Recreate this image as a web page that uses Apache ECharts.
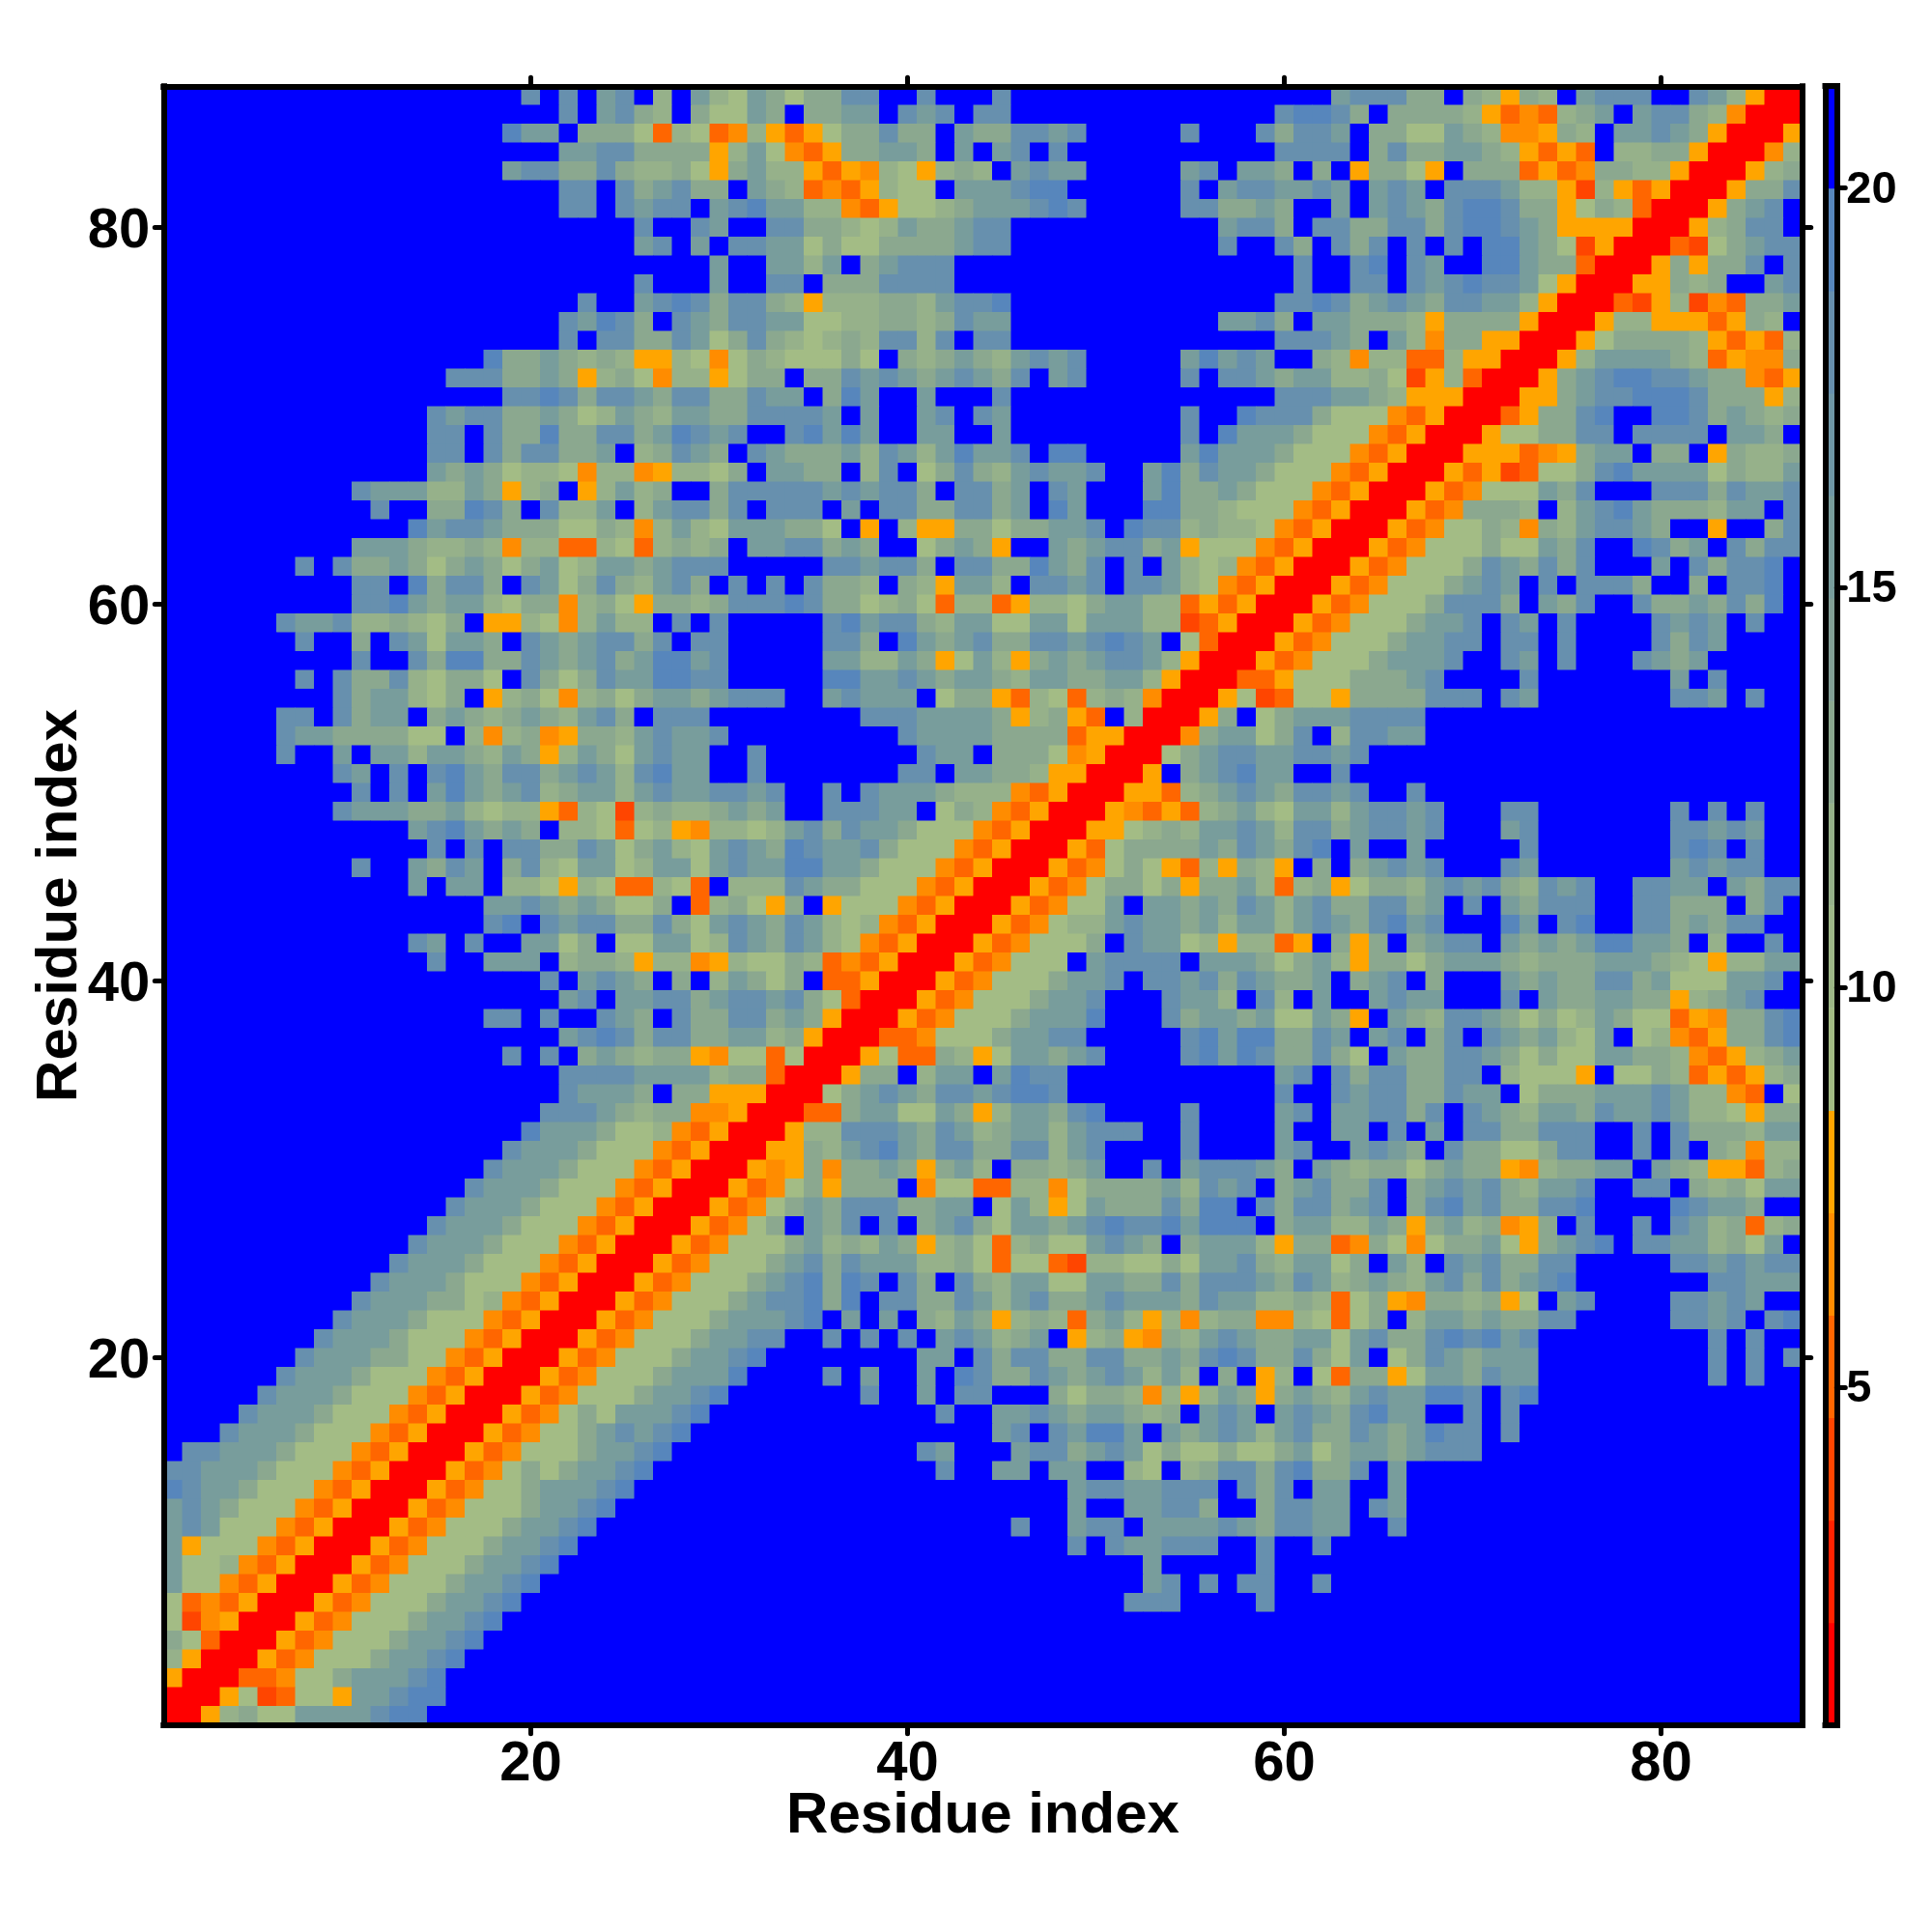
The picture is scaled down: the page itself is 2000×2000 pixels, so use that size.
<!DOCTYPE html>
<html>
<head>
<meta charset="utf-8">
<style>html,body{margin:0;padding:0;background:#fff}#c{width:2000px;height:2000px}</style>
<script src="https://cdn.jsdelivr.net/npm/echarts@6/dist/echarts.min.js"></script>
</head>
<body>
<div id="c"></div>
<script>
// Rows run top to bottom. Each letter is a distance band; "B19" means 19 cells of band B.
const rowsTopLeft = ["B19nBnBlnBhBl","B21nBlnjhBj","B18ollBjjjgdhg","B21llnnjjjj","B18lnnjjnjhhjg","B21nnBnjlnj","B21nnBnlnnB","B25nB2n","B25lnBl","B29","B25nB3","B22nB2lnon","B21nlonjBnl","B21nBnnjjnl","B17ojjljhjhffhg","B15nnnjjljfhjgehh","B18nnonjnnljnn","B14nlnnjjljghljhll","B14nnBnjjojjnnjlon","B14nnBnjnnjjlBhjnl","B14ljljghhgehhefhh","B10nlllhhljfhjBfhlhjB2","B11nB2jjonjBnhhlBhlnn","B13olnnljjjggjhehlh","B10llljhhjhehhddhgdhjh","B7nBnjjljgjljgjlghlljlnn","B10nnBojnnjBnlgjnjhlnj","B10nnoljllhgjjehjgfjjh","B6nllnhhjhgjBffhgehlhhBnB"];
const rowsTopMid = ["hgljgjjnnB2nB3nB13","ggljBjjllBnlnBnnB13","dehfdfgjjnjjBljjnnlnB5nB3","fhlgedfjjlljBlBlnBnB10","fjlhhfdfehgfhjhBlnllB5lnBl","jBljhdedfhggBlllnooB6nBln","lnollhhedfgghjlllnonB5nnjj","lB2nnjjhghljjlnnB11ln","BnnllgjggjjjjlnnB11nB","lB2llhlBjlnnnB16","lB2nnBjjjnnnnB16","jnnjhfhhhjjhlnnoB13","jnnllgghhjjhjnllB11ll","gjnjhghjhnnhnBnnB13","egjhgggjgBjhjljhlnlnB5loln","fgjjBjjnlnljlnljnBlnB5nBnn","jjnllBjolB2lB3nB13","jjnnnnlBlB2lnBnlB9nB2o","lnB2nololB2llB2lB9nBol","jBnljjjlhnlhlollnBooB5loll","gjBlljjBhnBgjnjhlnllnB2lojnll","jnnnnnlnlnnjBnnjlBnlB3lojjlj","jnBnnnBlBnnjjnnjlBolB3oojjhg","gllljjgBfBhffjjgjjllnBonnhjhh","jBllnnjljB2gjljfB2ljlnnjlfggg","nB5nnlnnjBnnjjoljnBnBlhghe","BnBnBnjjhBjhfllhBnnlnBnnlhged","jnnnonjjghjgdhhdfhhgjllhhdfdf","nB5nolnnjhllggllglllhhcdfr"];
const rowsTopRight = ["B4lnnnjjBjhfjhBlnnnB2nlhfrr","BnoonjBjjjjhfdedhjlBlnnjherrr","njnnlBjjggljheefjhBllnljfrrrf","BnnnnBjnjjlljhfdfdBhhjjfrrreh","ljBjBfjjgfBjjjdfdejjhhfrrrfhj","nllnlBlnlBnnnlhhfchfdfrrrfjjn","ljB2lBlnljnoonjjfgjhdrrrfjlnB","njBnnjjnnjnoonljffffrrrfhjnnB","BnjBnjnBnBnBooljgcfrrrdcgjlnn","B2nB2noBnlB2ooljjdrrrfjfjjnBn","B2nB2nnBnlnonnlgfrrrffjhjB2ln","Bnnonjlnljnnllhfrrrdcfhcedjjl","njBlljjjhfjjjjfrrrfhhfffdfjhB","BnnnljBlhejjffrrrfgjjjjhfdfdh","lB2jhehhddhffrrrfhlllljhdfeej","ljllhhjgcfhdrrrfjlnoonnljjedf","Bnnnlljhfffrrrffjlnnooonjjjfh","nnnjgggedfrrrdfjjnoB2oonjljhj","lljgggedfrrrfggjjnnBnnnnBlljB","ljgggedfrrrfffdefjllBjjBfjhhj","jgggedfrrrfdfcdggjnollllgjhhl","gggedfrrrfdegggljnB3nnnjnlln","ggedfrrrfdejjjhBhlnoljjjhllBn","gedfrrrfdeggjhejhlnnljB2fB2jn","edfrrrfdegggjggljnB2onjlBnjnn","dfrrrfdegggjnljnjnB3lBnjnnoB","frrrfdegggjlnlBnBnnnjB2jBnnoB","rrrfdegggjnnnjBljnB2njjljnjoB","rrfdegggjllnBnlBnB4nlnlBnB2"];
const rowsMidLeft = ["B7nB2jBnlglljBnljlnnjnBn","B10nB2njoojjnljlnjlool","B7nBnjjnhgjjgBnjgjnlloon","B9njllhgjBfhjgehjgjllj","B6nnBnjllBjljhjljhlnjBnnn","B6nlljjjjggBhehjefjjhlnll","B6nB2lBllhlljhljfhljglnll","B9nlBnBnoljnnjlnlhnoll","B10nBnBloljlnhjllhlnll","B9nllljjlhghhfdhgchjhh","B13lnoljljBhhgdghfe","B14nBnBnnjjnlgjlhg","B10nB2ljnlBjnhgllghllg","B13lBllBhhgfhgddhgd","B17llnljljggjBd","B17noBnlnnjjnjg","B13nlBnB2llgjBggllg","B14nB2lllBhjjhfhhe","B20nBlnljBjB","B21lnBllnnj","B17nnBnB2nljBnj","B21lnonjnnj","B18nBnBjljhjjf","B21nnnnllll","B21nllljBjj","B20nnnljhjje","B19ollljgghed","B18nllljgggedf","B17nllljgggedfr"];
const rowsMidMid = ["nB5nnjBoljlnjjnnlnonlBgdrr","nB5llhhljfglhfjljlnnlhfrrr","nB5oollnljlljhlljjllhfrrrd","lnnnB2lnlllBgjjfdhgdhjherrrfg","B8nnnlllljfhjfdBhrrrfjB","nB9nlllljjjjdffrrrejll","B2nB8nllBjjjgefrrrgjlnn","B2nB7nnBlljjhffrrrfBjlno","nnlnB2nBnllljhhhedfrrrffdhjln","jljlB2nnnllBgjhedfrrrfedfdhjl","hhghlnjnlljgggedfrrrffghjhlln","lnljonllnjgggedfrrrfdgjjjjljn","lnlloolljgggedfrrrfdegjgfdhfj","Bhhhnljjgggedfrrrfdegjjgjfjjl","hjgfjBfgggedfrrrfdegglBlljljn","lnljnlhghedfrrrfdeghhlnlljlhl","hnljnlhgedfrrrfdegggjBnllghfh","fhggjhdedfrrrfdegggBlnnnnBlll","hljgjBddfrrrfdegggjllnBnnlnjn","lnnlnjgdrrrfdegggjllnB3nllhB","jnnjljfrrrfdegggjllloB3njllj","jllhjfrrrddegggjllnnB5nolo","eggdgrrrfgddjhfglljlnB4nolo","hjjdrrrfjjBhllBlonnB10","fffrrrgjlnljnnlnoonB10","efrrrddjllggljfhlljnoB4nB3","frrrfhhnnnljnlhjllhlnnnB2nB3","rrrffjhlnoljnnjjnnhlnB4nB3","rrfefjejjljfjlhBjjhjlB2nBlnnn"];
const rowsMidRight = ["rfdegggjllnnBnnBnB4njnlB4","fdegggjlllnB2nlBnB3nljlB5","dfgggjjjlnB4nB7lBnB4","cdggfjjjjnnnBnlB7nnlBnB2","gjlllnnnnB20","gjnBhnnllB20","llnnlnB23","llB2nB24","ljnnlnB2nB20","hgllhlnnlnB3nnB7nBnBnB2","lhnnjlnnlnB3lnB7nnlnlB2","ljnoBlB2lB5nB7nonBnB2","hfBjBjlnlnB3nlB7lnlnnB2","hdhjfgjjhlnlnjhnlnB2nnllBljnn","lhlnjjnnjlBnBljnnnB2nnjjjBjnB","lhlnljnolnB3olBnoB2nnjljnnB2","hdfBjfjBjlnnBljljloolljBhB2nB","jgjlhfjjgjllljhjjjllljhgfhhll","ljjlBjlnBjB3ljljjnnjlgggllnB","nhBlB2lnllB3nBljjlljjfhjlnB2","lggljfBljhnnljgjghljggdfejjno","ojjnlBlnBjnBnljlhglBghedfjjno","njjnjgBljjnnljgjgglljjhedfhjl","BlnBnjnnjjnnBhgggfBggjhdfdfhj","BnB2nlnnjjnllBgjjjlllnlhhedBg","BlnBllnnjnBnljhlljnllnlhhgfjj","BlB2llBnBlBnnjjnnnB2nBnjjjhll","BlnB2lnljBnjjggjnnB2nBnBjhehh","ljBljhjjgjljjfehjjllBljhffdhj"];
const rowsLowLeft = ["B16nllljgggedfrr","B15nllljgggedfrrr","B14nllljgggedfrrrf","B13nllljgggedfrrrfd","B12nllljgggedfrrrfde","B11nllljgggedfrrrfdeg","B10nllljjghedfrrrfdegg","B9nllljgggedfrrrfdeggg","B8nllljgggedfrrrfdegggj","B7nllljjggedfrrrfdegggjl","B6nllljgggedfrrrfdegggjll","B5nllljgggedfrrrfdegggjlln","B4nllljgggedfrrrfdegjglllno","B3nllljgggedfrrrfdeggjlnlnoB","BnnllljgggedfrrrfdegggjllnoB2","nnllljgggedfrrrfdegjgjllnoB3","onlljgggedfrrrfdeggjlllnoB4","lnljgggedfrrrfdegggjllnoB5","lnlgggedfrrrfdegggjllnoB6","lfgggedfrrrfdegggjllnoB7","lgghedfrrrfdegggjllnoB8","lggedfrrrfdegggjllnoB9","gdedfrrrfdegggjllnoB10","gcefrrrfdegggjllnoB11","jgdrrrfdegggjllnoB12","hfrrrfdegggjllnoB13","frrrddeggjlllnoB14","rrrfgcdggfllnooB14","rrfhjggllllnooB15"];
const rowsLowMid = ["rfdegjfjjjBeggddhhegjjjjlhnln","fdegjljnnnjjllBglhfgljjjnjooB","degjBljnBnBjlnjglljlnonnolooo","egggjlhjhljfhjgdhjgglnljBjlll","gggjlnjnlllhhjgdggdchhggjglln","ggjlnojonBnjBnjhllgglljjnjnnn","gjlnnojoBnnjjnlhlnjjlnllljnll","jlllnoBlBlBjhljfhjhdjlhfhehjj","llnnB2nBnBnBlnlhjlBfhjfejhlnl","lnoB8llBnjnnjjnnjjljnon","loB4nBlB2lBonjjnljlnlhlhBjB","oB7nB2lBnnB3jgjjhehfhlj","B12nB2llnljlljhjBlnl","B15lnBnloolBljlnl","B11nlB3lnnjlnlgjggjg","B12nB2llBllB2hgBhjnn","B19lnnllnnnBn","B19lB2llnnjB2","B16nB2lnnBllllnl","B19nBnllnnnB2","B23lB5","B23lnBnBn","B22nnnB4","B29","B29","B29","B29","B29","B29"];
const rowsLowRight = ["BjlnjjnBjlnlnjhllnB2nnBjhjgll","njnnjlnBjnolnjjnnoB4onlljB2","BjllhhljfjlhjefjBnB2nBnlhjdhj","hfjjdejgegjjlgfjlnoBnnllhjglB","jhllgjBlhBnlnjjnnB5nnlnlnn","ljnlhjljhlnjnjlnoB7nnlll","hhjhdgjfejjhjfgBlnB4nnlnlB2","eehgdgjBhlljljjnnB5nnlnBno","jjllglnjjnonolnB9nBnB2","jjnjglBgjnljlllB9nBnBn","fhBgdjjfglljnllB9nBnB2","fjljhlnlloonBnoB14","BlnljnollB2nBnB15","hlnjjnljlonnBnB15","gjlgjlljlnnnB17","jnojjnBlB21","jnBllB2lB21","jnnllBnlB21","jnnllB2nB21","nB2nB25","nB28","nB2nB25","nB28","B29","B29","B29","B29","B29","B29"];

const bandOfLetter = {r:0,c:2,d:3,e:4,f:5,g:6,h:8,j:9,l:11,n:13,o:14,B:15};
const bandColors = ["#ff0000","#ff2200","#ff4500","#ff6600","#ff8c00","#ffa500","#a3bc85","#9db787","#96b18a","#8ba88f","#819f96","#789d9c","#6f97a6","#6790ae","#5786bc","#0000ff"];
const tickLabels = [20,40,60,80];
const colorbarTicks = [5,10,15,20];
const scaleMin = 0.77, scaleMax = 21.27;
const nRes = 87;

const bandWidth = (scaleMax - scaleMin) / bandColors.length;
const bandValue = k => scaleMin + bandWidth * (k + 0.5);
const decode = s => {
  const t = s.replace(/B(\d+)/g, (m, n) => "B".repeat(+n));
  return (t + "B".repeat(29)).slice(0, 29);
};
const tiers = [[rowsTopLeft,rowsTopMid,rowsTopRight],[rowsMidLeft,rowsMidMid,rowsMidRight],[rowsLowLeft,rowsLowMid,rowsLowRight]];
const cells = [];
tiers.forEach((tier, ti) => {
  for (let r = 0; r < 29; r++) {
    const line = tier.map(t => decode(t[r])).join("");
    for (let c = 0; c < nRes; c++) {
      cells.push([c, nRes - 1 - (ti * 29 + r), bandValue(bandOfLetter[line[c]])]);
    }
  }
});
const residues = Array.from({length: nRes}, (_, i) => String(i + 1));
const showTick = (i, v) => tickLabels.includes(+v);
const FONT = "Liberation Sans";
const frame = {show: true, onZero: false, lineStyle: {color: "#000", width: 6, cap: "square"}};
const tick = {show: true, alignWithLabel: true, interval: showTick, length: 9, lineStyle: {color: "#000", width: 5, cap: "round"}};
const labelFont = {color: "#000", fontFamily: FONT, fontWeight: "bold", fontSize: 58};
const nameStyle = {color: "#000", fontFamily: FONT, fontWeight: "bold", fontSize: 60};
const bandCats = bandColors.map((_, i) => String(i));

const option = {
  animation: false,
  backgroundColor: "#fff",
  grid: [
    {left: 169.25, top: 89.25, width: 1696.5, height: 1696.5, show: true, backgroundColor: "#0000ff", borderWidth: 0},
    {left: 1889.5, top: 89, width: 11.8, height: 1697}
  ],
  xAxis: [
    {type: "category", gridIndex: 0, data: residues, position: "bottom", z: 10, axisLine: frame, axisTick: tick,
     axisLabel: {show: true, interval: showTick, margin: 12, ...labelFont}, splitLine: {show: false},
     name: "Residue index", nameLocation: "middle", nameMoveOverlap: false, nameGap: 65, nameTextStyle: nameStyle},
    {type: "category", gridIndex: 0, data: residues, position: "top", z: 10, axisLine: frame, axisTick: tick, axisLabel: {show: false}, splitLine: {show: false}},
    {type: "category", gridIndex: 1, data: ["bar"], position: "bottom", z: 10, axisLine: frame, axisTick: {show: false}, axisLabel: {show: false}},
    {type: "category", gridIndex: 1, data: ["bar"], position: "top", z: 10, axisLine: frame, axisTick: {show: false}, axisLabel: {show: false}}
  ],
  yAxis: [
    {type: "category", gridIndex: 0, data: residues, position: "left", z: 10, axisLine: frame, axisTick: tick,
     axisLabel: {show: true, interval: showTick, margin: 14, ...labelFont, formatter: v => `{a|${v}}`, rich: {a: {...labelFont, padding: [8, 0, 0, 0]}}}, splitLine: {show: false},
     name: "Residue index", nameLocation: "middle", nameMoveOverlap: false, nameGap: 77, nameTextStyle: nameStyle},
    {type: "category", gridIndex: 0, data: residues, position: "right", z: 10, axisLine: frame, axisTick: tick, axisLabel: {show: false}, splitLine: {show: false}},
    {type: "category", gridIndex: 1, data: bandCats, position: "left", z: 10, axisLine: frame, axisTick: {show: false}, axisLabel: {show: false}},
    {type: "value", gridIndex: 1, min: scaleMin, max: scaleMax, position: "right", z: 10, axisLine: frame, splitLine: {show: false},
     axisTick: {show: true, length: 9, customValues: colorbarTicks, lineStyle: {color: "#000", width: 5, cap: "round"}},
     axisLabel: {show: true, customValues: colorbarTicks, margin: 10, color: "#000", fontFamily: FONT, fontWeight: "bold", fontSize: 47,
       formatter: v => `{a|${v}}`, rich: {a: {color: "#000", fontFamily: FONT, fontWeight: "bold", fontSize: 47, padding: [5, 0, 0, 0]}}}}
  ],
  visualMap: {
    type: "piecewise", show: false, dimension: 2, seriesIndex: [0, 1],
    pieces: bandColors.map((color, k) => ({gte: scaleMin + k * bandWidth, lt: scaleMin + (k + 1) * bandWidth, color}))
  },
  series: [
    {type: "heatmap", xAxisIndex: 0, yAxisIndex: 0, data: cells, progressive: 0, silent: true, itemStyle: {borderWidth: 0}},
    {type: "heatmap", xAxisIndex: 2, yAxisIndex: 2, data: bandColors.map((_, k) => [0, k, bandValue(k)]), progressive: 0, silent: true}
  ]
};
echarts.init(document.getElementById("c"), null, {renderer: "canvas"}).setOption(option);
</script>
</body>
</html>
